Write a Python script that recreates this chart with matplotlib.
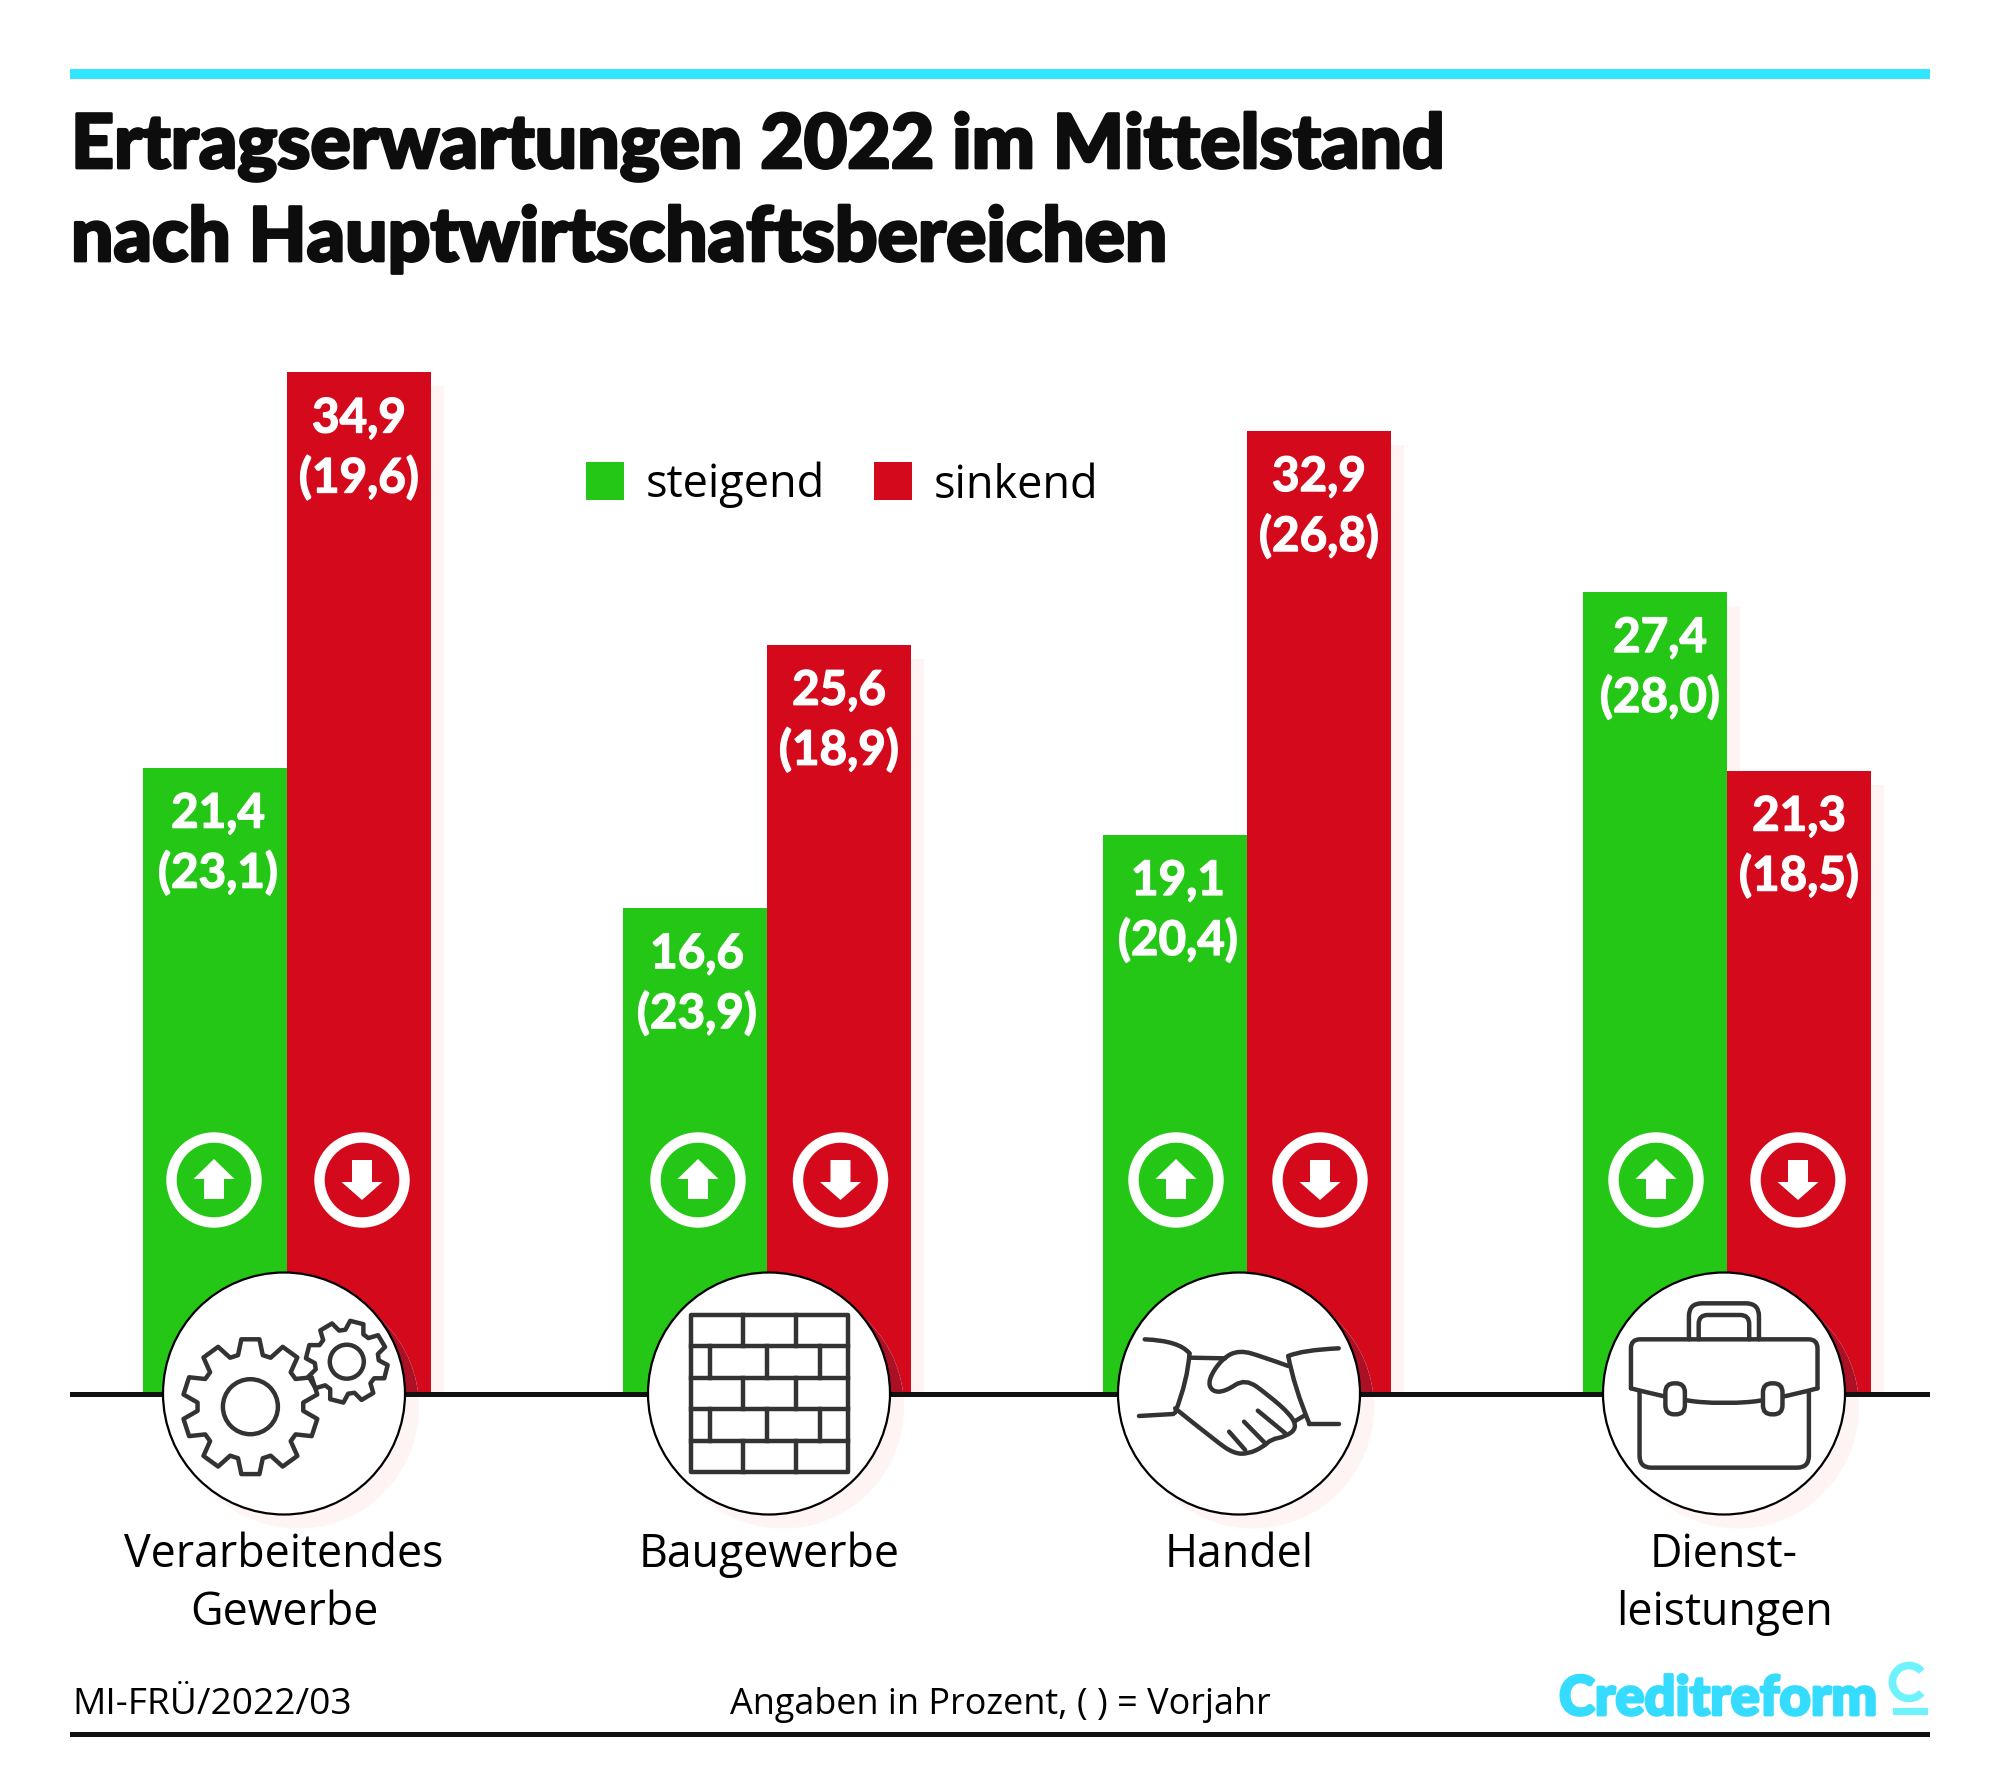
import numpy as np
import matplotlib
matplotlib.use("Agg")
import matplotlib.pyplot as plt
import matplotlib.patheffects as pe
from matplotlib.patches import Rectangle, Circle, Polygon, FancyBboxPatch, PathPatch, Arc
from matplotlib.path import Path

# ---- data ----
categories = [["Verarbeitendes", "Gewerbe"], ["Baugewerbe"], ["Handel"], ["Dienst-", "leistungen"]]
rising = [21.4, 16.6, 19.1, 27.4]
falling = [34.9, 25.6, 32.9, 21.3]
rising_prev = [23.1, 23.9, 20.4, 28.0]
falling_prev = [19.6, 18.9, 26.8, 18.5]
series_names = ["steigend", "sinkend"]
title_lines = ["Ertragserwartungen 2022 im Mittelstand", "nach Hauptwirtschaftsbereichen"]
note_left = "MI-FRÜ/2022/03"
note_mid = "Angaben in Prozent, ( ) = Vorjahr"
brand = "Creditreform"

GREEN = "#25c716"
RED = "#d40a1c"
CYAN = "#33e6ff"
LOGO = "#35dcff"
LOGO2 = "#6ef3fc"
SHADOW = "#fef4f4"
INK = "#333333"
BODY_FONT = "Open Sans"
HEAVY_FONT = "Lato"

W, H = 2000, 1791
PX_PER_UNIT = 29.27
fig = plt.figure(figsize=(W / 100, H / 100), dpi=100, facecolor="white")

# data axes: one category = 480 px, zero line at pixel row 1394
ax = fig.add_axes([0, 0, 1, 1], facecolor="none")
ax.set_xlim((0 - 287) / 480, (W - 287) / 480)
ax.set_ylim((1394 - H) / PX_PER_UNIT, 1394 / PX_PER_UNIT)
ax.axis("off")

# overlay in pixel units for decoration and text layout
ov = fig.add_axes([0, 0, 1, 1], facecolor="none")
ov.set_xlim(0, W)
ov.set_ylim(H, 0)
ov.axis("off")

renderer = fig.canvas.get_renderer()


def fit_size(s, width, family=BODY_FONT, **kw):
    t = fig.text(0, 0, s, fontsize=40, family=family, **kw)
    w = t.get_window_extent(renderer).width
    t.remove()
    return 40 * width / w


def label(x, y, s, size, ha="left", color="black", family=BODY_FONT, heavy=0, **kw):
    t = ov.text(x, y, s, fontsize=size, ha=ha, va="baseline", color=color, family=family, **kw)
    if heavy:
        t.set_path_effects([pe.withStroke(linewidth=heavy, foreground=color)])
    return t


# ---- bars ----
pos = np.arange(len(categories))
bw = 144 / 480
sx, sy = 13 / 480, 14 / PX_PER_UNIT
for off, vals in ((-bw / 2, rising), (bw / 2, falling)):
    ax.bar(pos + off + sx, np.array(vals) - sy, bw, color=SHADOW, zorder=1)
ax.bar(pos - bw / 2, rising, bw, color=GREEN, zorder=2)
red_bars = ax.bar(pos + bw / 2, falling, bw, color=RED, zorder=2)

val_size = fit_size("(23,1)", 120, family=HEAVY_FONT, weight="bold")
green_shift = [3, 2, 3, 5]
for i in pos:
    for off, v, p, dx in ((-bw / 2, rising[i], rising_prev[i], green_shift[i]),
                          (bw / 2, falling[i], falling_prev[i], 0)):
        for txt, d in ((f"{v:.1f}".replace(".", ","), 60), (f"({p:.1f})".replace(".", ","), 120)):
            a = ax.annotate(txt, (i + off, v), xytext=(dx * 0.72, -d * 0.72), textcoords="offset points",
                            ha="center", va="baseline", color="white", weight="bold",
                            fontsize=val_size, family=HEAVY_FONT, zorder=3)
            a.set_path_effects([pe.withStroke(linewidth=1.0, foreground="white")])

# ---- frame elements ----
ov.add_patch(Rectangle((70, 69), 1860, 10, color=CYAN, lw=0))
ov.add_patch(Rectangle((70, 1732), 1860, 5, color="#111111", lw=0))

title_size = fit_size(title_lines[0], 1372, family=HEAVY_FONT, weight=900)
label(71, 168, title_lines[0], title_size, weight=900, color="#0d0d0d", family=HEAVY_FONT, heavy=2.0)
label(71, 261, title_lines[1], title_size, weight=900, color="#0d0d0d", family=HEAVY_FONT, heavy=2.0)

# legend
ov.add_patch(Rectangle((586, 462), 38, 38, color=GREEN, lw=0))
ov.add_patch(Rectangle((874, 462), 38, 38, color=RED, lw=0))
body_size = fit_size(series_names[0], 179)
label(646, 497.5, series_names[0], body_size)
label(934, 497.5, series_names[1], body_size)

# ---- arrow badges ----
up_x = [214, 698, 1176, 1656]
down_x = [362, 840.5, 1320, 1798]
cy = 1180
for x in up_x:
    ov.add_patch(Circle((x, cy), 42.5, fc="none", ec="white", lw=7.5))
    ov.add_patch(Polygon([(x, cy - 21), (x + 20.5, cy - 1), (x + 10, cy - 1), (x + 10, cy + 19),
                          (x - 10, cy + 19), (x - 10, cy - 1), (x - 20.5, cy - 1)], fc="white", ec="none"))
for x in down_x:
    ov.add_patch(Circle((x, cy), 42.5, fc="none", ec="white", lw=7.5))
    ov.add_patch(Polygon([(x, cy + 20), (x + 20.5, cy + 2), (x + 10, cy + 2), (x + 10, cy - 20),
                          (x - 10, cy - 20), (x - 10, cy + 2), (x - 20.5, cy + 2)], fc="white", ec="none"))

# ---- category discs ----
disc_x = [284, 769, 1239, 1724]
disc_y = 1393.5
R = 121
for x in disc_x:
    ov.add_patch(Circle((x + 14, disc_y + 14), R, fc=SHADOW, ec="none", zorder=0.5))
for x, b in zip(disc_x, red_bars):
    c = Circle((x + 14, disc_y + 14), R, fc="#ac1024", ec="none", zorder=1)
    ov.add_patch(c)
    c.set_clip_path(b)
ov.add_patch(Rectangle((70, 1392), 1860, 5, color="#111111", lw=0, zorder=2))
for x in disc_x:
    ov.add_patch(Circle((x, disc_y), R, fc="white", ec="black", lw=1.6, zorder=3))

STROKE = dict(fc="none", ec=INK, lw=3.2, zorder=4, capstyle="round", joinstyle="round")


def gear(cx, cy, ro, ri, hole, n, rot):
    pts = []
    step = 2 * np.pi / n
    for k in range(n):
        a = rot + k * step
        for da, r in ((-0.30, ri), (-0.17, ro), (0.17, ro), (0.30, ri)):
            pts.append((cx + r * np.sin(a + da * step * 1.25), cy - r * np.cos(a + da * step * 1.25)))
    ov.add_patch(Polygon(pts, closed=True, **STROKE))
    ov.add_patch(Circle((cx, cy), hole, **STROKE))


gear(250.4, 1406.7, 68, 53, 27.5, 10, 0.0)
gear(346.8, 1361.7, 41, 32, 17, 8, 0.25)

# bricks
bx0, bx1, by0, by1 = 691, 848, 1315, 1472
ov.add_patch(Rectangle((bx0, by0), bx1 - bx0, by1 - by0, **STROKE))
rows = np.linspace(by0, by1, 6)
for y in rows[1:-1]:
    ov.plot([bx0, bx1], [y, y], color=INK, lw=3.2, zorder=4)
for r in range(5):
    xs = (743, 796) if r % 2 == 0 else (710, 767, 820)
    for x in xs:
        ov.plot([x, x], [rows[r], rows[r + 1]], color=INK, lw=3.2, zorder=4)


def to_px(points, ox=1050, oy=1100):
    return np.array([(ox + px / 1.742, oy + py / 3) for px, py in points], float)


def smooth(points):
    """Quadratic smoothing through sketch points."""
    pts = np.array(points, float)
    verts, codes = [pts[0]], [Path.MOVETO]
    for i in range(1, len(pts) - 1):
        end = pts[i + 1] if i == len(pts) - 2 else (pts[i] + pts[i + 1]) / 2
        verts += [pts[i], end]
        codes += [Path.CURVE3, Path.CURVE3]
    if len(pts) == 2:
        verts.append(pts[1])
        codes.append(Path.LINETO)
    return Path(verts, codes)


def sketch(points):
    ov.add_patch(PathPatch(smooth(to_px(points)), **STROKE))


def rounded(points, r):
    """Straight strokes with rounded corners of radius r pixels."""
    pts = to_px(points)
    verts, codes = [pts[0]], [Path.MOVETO]
    for i in range(1, len(pts) - 1):
        u = (pts[i] - pts[i - 1]) / np.linalg.norm(pts[i] - pts[i - 1])
        v = (pts[i + 1] - pts[i]) / np.linalg.norm(pts[i + 1] - pts[i])
        verts += [pts[i] - r * u, pts[i], pts[i] + r * v]
        codes += [Path.LINETO, Path.CURVE3, Path.CURVE3]
    verts.append(pts[-1])
    codes.append(Path.LINETO)
    ov.add_patch(PathPatch(Path(verts, codes), **STROKE))


# handshake
for stroke in [
    [(165, 718), (225, 722), (243, 760)],
    [(243, 760), (240, 840), (218, 938)],
    [(155, 948), (215, 942)],
    [(503, 745), (440, 750), (415, 768)],
    [(415, 768), (425, 860), (452, 972)],
    [(452, 972), (503, 972)],
    [(243, 773), (305, 775)],
    [(415, 798), (370, 770), (330, 750), (300, 775), (275, 840), (282, 875), (305, 875), (340, 835),
     (380, 885), (420, 945), (430, 985), (410, 1010), (385, 1018), (372, 1040), (345, 1062), (320, 1060), (290, 1025),
     (218, 925)],
    [(312, 995), (340, 1050)],
    [(338, 965), (375, 1030)],
    [(362, 932), (410, 1000)],
    [(425, 965), (445, 945)],
]:
    sketch(stroke)

# briefcase
rounded([(1012, 865), (1012, 718), (1337, 718), (1337, 865)], 9)
sketch([(1012, 865), (1090, 900), (1175, 912), (1260, 900), (1337, 865)])
rounded([(1027, 875), (1027, 1103), (1322, 1103), (1322, 875)], 12)
rounded([(1113, 718), (1113, 610), (1235, 610), (1235, 718)], 13)
rounded([(1130, 718), (1130, 645), (1218, 645), (1218, 718)], 9)
for zx in (1072, 1242):
    ov.add_patch(FancyBboxPatch((1050 + zx / 1.742, 1100 + 850 / 3), 19.5, 31,
                                boxstyle="round,pad=0,rounding_size=9", fc="white", ec=INK, lw=3.2, zorder=5))

# ---- category labels ----
cat_size = fit_size(categories[0][0], 319)
for x, lines in zip(disc_x, categories):
    for j, line in enumerate(lines):
        label(x, 1567 + 58 * j, line, cat_size, ha="center")

# ---- footer ----
foot_size = fit_size(note_mid, 539)
label(72, 1714, note_left, fit_size(note_left, 279))
label(730, 1714, note_mid, foot_size)

# logo
logo_size = fit_size(brand, 318, family=HEAVY_FONT, weight=900)
label(1559, 1715, brand, logo_size, weight=900, color=LOGO, family=HEAVY_FONT, heavy=2.0)
ov.add_patch(Arc((1909, 1682), 33, 33, theta1=40, theta2=320, ec=LOGO2, lw=5.5))
ov.add_patch(Rectangle((1893, 1708), 35, 7, color=LOGO2, lw=0))

fig.savefig("out.png", dpi=100, facecolor="white")
